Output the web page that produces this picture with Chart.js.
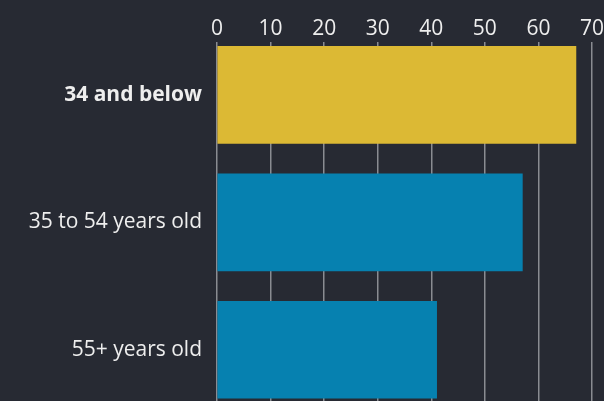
<!DOCTYPE html>
<html>
<head>
<meta charset="utf-8">
<script src="https://cdn.jsdelivr.net/npm/chart.js@4"></script>
<style>
  html, body { margin: 0; padding: 0; background: #272a33; overflow: hidden; }
  #wrap { width: 604px; height: 401px; position: relative; }
</style>
</head>
<body>
<div id="wrap"><canvas id="chart"></canvas></div>
<script>
// Age groups vs share
const categories = ["34 and below", "35 to 54 years old", "55+ years old"];
const values = [67, 57, 41];
const xTicks = [0, 10, 20, 30, 40, 50, 60, 70];

const barColors = ["#dcb934", "#0681b0", "#0681b0"];
const textColor = "#eeeeee";
const gridColor = "#8a8c92";
const fontFamily = "'Open Sans', sans-serif";

new Chart(document.getElementById("chart"), {
  type: "bar",
  data: {
    datasets: [{
      data: values.map((v, i) => ({ x: v, y: i })),
      backgroundColor: barColors,
      barThickness: 97,
      borderWidth: 0
    }]
  },
  options: {
    indexAxis: "y",
    responsive: true,
    maintainAspectRatio: false,
    animation: false,
    layout: { padding: { top: 15, right: 12, left: 0, bottom: 0 } },
    plugins: { legend: { display: false }, tooltip: { enabled: false } },
    scales: {
      x: {
        position: "top",
        min: 0, max: 70,
        afterBuildTicks: s => { s.ticks = xTicks.map(v => ({ value: v })); },
        afterFit: s => { s.paddingLeft = 0; s.paddingRight = 0; },
        grid: { color: gridColor, lineWidth: 1.5, drawTicks: false },
        border: { display: false },
        ticks: { color: textColor, padding: 1, font: { family: fontFamily, size: 21 } }
      },
      y: {
        type: "linear",
        offset: false,
        reverse: true,
        min: -0.413, max: 2.402,
        afterBuildTicks: s => { s.ticks = categories.map((_, i) => ({ value: i })); },
        afterFit: s => { s.width = 217; s.paddingTop = 0; s.paddingBottom = 0; },
        grid: { display: false, drawTicks: false },
        border: { display: false },
        ticks: {
          color: textColor,
          padding: 15,
          callback: v => categories[v],
          font: ctx => ({ family: fontFamily, size: 21, weight: ctx.index === 0 ? "bold" : "normal" })
        }
      }
    }
  }
});
</script>
</body>
</html>
